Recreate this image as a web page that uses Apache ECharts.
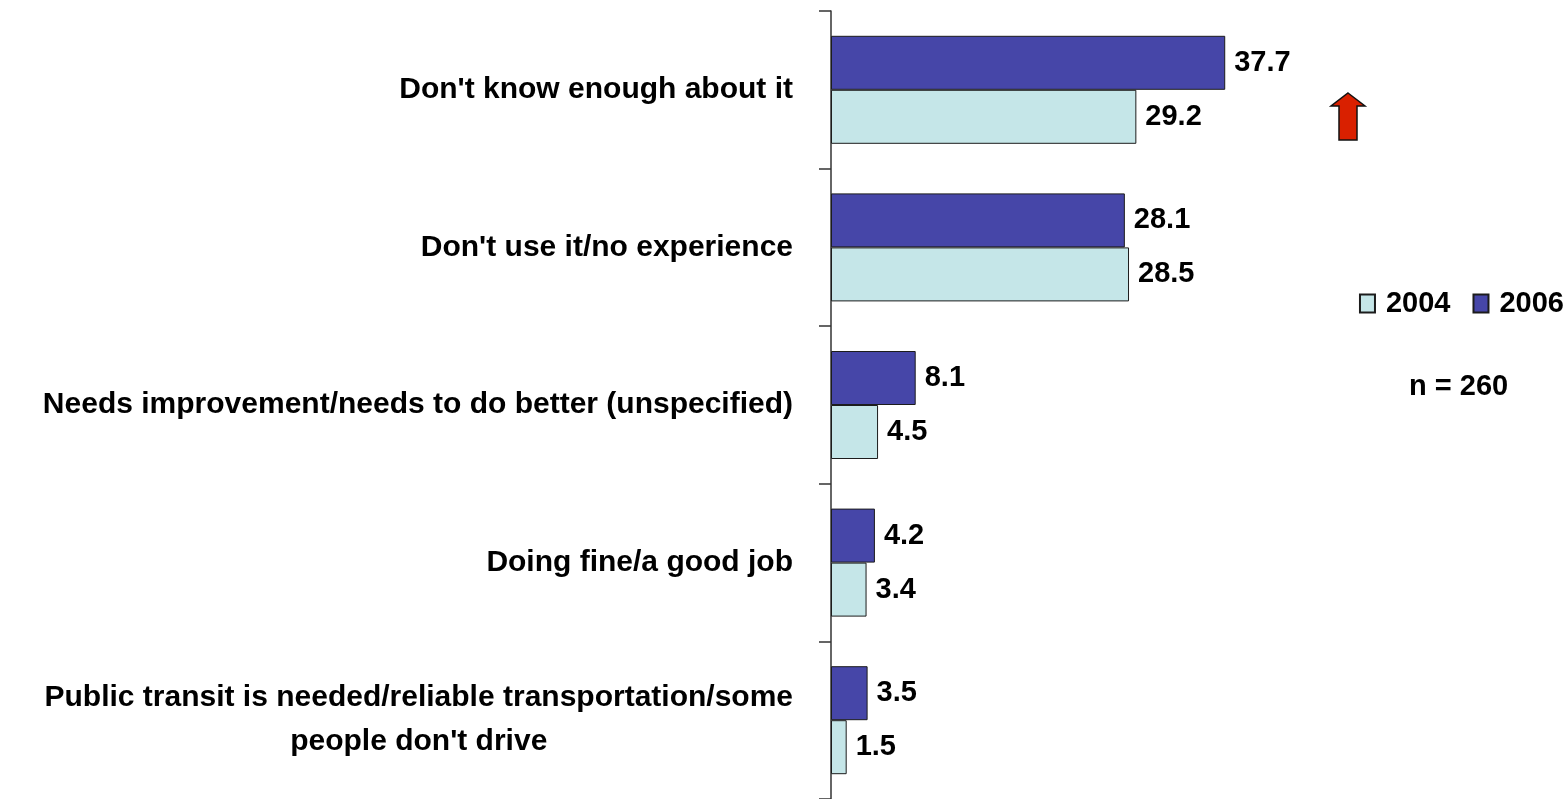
<!DOCTYPE html>
<html>
<head>
<meta charset="utf-8">
<script src="https://cdn.jsdelivr.net/npm/echarts@6/dist/echarts.min.js"></script>
<style>
  html, body { margin: 0; padding: 0; background: #fff; }
  #chart { width: 1568px; height: 799px; }
</style>
</head>
<body>
<div id="chart"></div>
<script>
// Reasons given for the rating, share of respondents (%)
const categories = [
  "Don't know enough about it",
  "Don't use it/no experience",
  "Needs improvement/needs to do better (unspecified)",
  "Doing fine/a good job",
  "Public transit is needed/reliable transportation/some\npeople don't drive"
];
const values2006 = [37.7, 28.1, 8.1, 4.2, 3.5];
const values2004 = [29.2, 28.5, 4.5, 3.4, 1.5];
const legendNames = ['2004', '2006'];
const sampleNote = 'n = 260';

const FONT = "'Liberation Sans', Arial, Helvetica, sans-serif";
const COLOR_2006 = '#4646A8';
const COLOR_2004 = '#C5E6E8';
const EDGE = '#1c1c1c';

const chart = echarts.init(document.getElementById('chart'), null, { renderer: 'canvas' });

const valueLabel = {
  show: true,
  position: 'right',
  distance: 9,
  color: '#000',
  fontFamily: FONT,
  fontWeight: 'bold',
  fontSize: 29
};

chart.setOption({
  animation: false,
  backgroundColor: '#ffffff',
  grid: { left: 831, right: 5, top: 11, bottom: 0, containLabel: false },
  legend: {
    data: legendNames,
    orient: 'horizontal',
    right: 4,
    top: 289,
    padding: 0,
    itemWidth: 15,
    itemHeight: 18,
    itemGap: 22,
    icon: 'rect',
    textStyle: {
      color: '#000', fontFamily: FONT, fontWeight: 'bold', fontSize: 29,
      padding: [0, 0, 0, 6]
    }
  },
  xAxis: {
    type: 'value',
    min: 0,
    max: 70,
    show: false
  },
  yAxis: {
    type: 'category',
    data: categories,
    inverse: true,
    axisLine: { show: true, lineStyle: { color: '#333', width: 1.5 } },
    axisTick: { show: true, inside: false, length: 12, alignWithLabel: false, lineStyle: { color: '#333', width: 1.5 } },
    axisLabel: {
      interval: 0,
      margin: 38,
      color: '#000',
      fontFamily: FONT,
      fontWeight: 'bold',
      fontSize: 30,
      lineHeight: 44,
      formatter: function (v) {
        return v.indexOf('\n') >= 0 ? '{m|' + v + '}' : v;
      },
      rich: {
        m: {
          align: 'center',
          color: '#000', fontFamily: FONT, fontWeight: 'bold', fontSize: 30, lineHeight: 44
        }
      }
    },
    splitLine: { show: false }
  },
  series: [
    {
      name: '2006',
      type: 'bar',
      data: values2006,
      barWidth: 54,
      barGap: '0%',
      itemStyle: { color: COLOR_2006, borderColor: EDGE, borderWidth: 1 },
      label: valueLabel
    },
    {
      name: '2004',
      type: 'bar',
      data: values2004,
      barWidth: 54,
      barGap: '0%',
      itemStyle: { color: COLOR_2004, borderColor: EDGE, borderWidth: 1 },
      label: valueLabel
    }
  ],
  graphic: [
    {
      type: 'polygon',
      shape: {
        points: [[1348, 93], [1365, 106], [1357, 106], [1357, 140], [1339, 140], [1339, 106], [1331, 106]]
      },
      style: { fill: '#D92000', stroke: '#111', lineWidth: 1.5 }
    },
    {
      type: 'text',
      left: 1409,
      top: 372,
      style: {
        text: sampleNote,
        fill: '#000',
        font: 'bold 29px ' + FONT
      }
    }
  ]
});
</script>
</body>
</html>
